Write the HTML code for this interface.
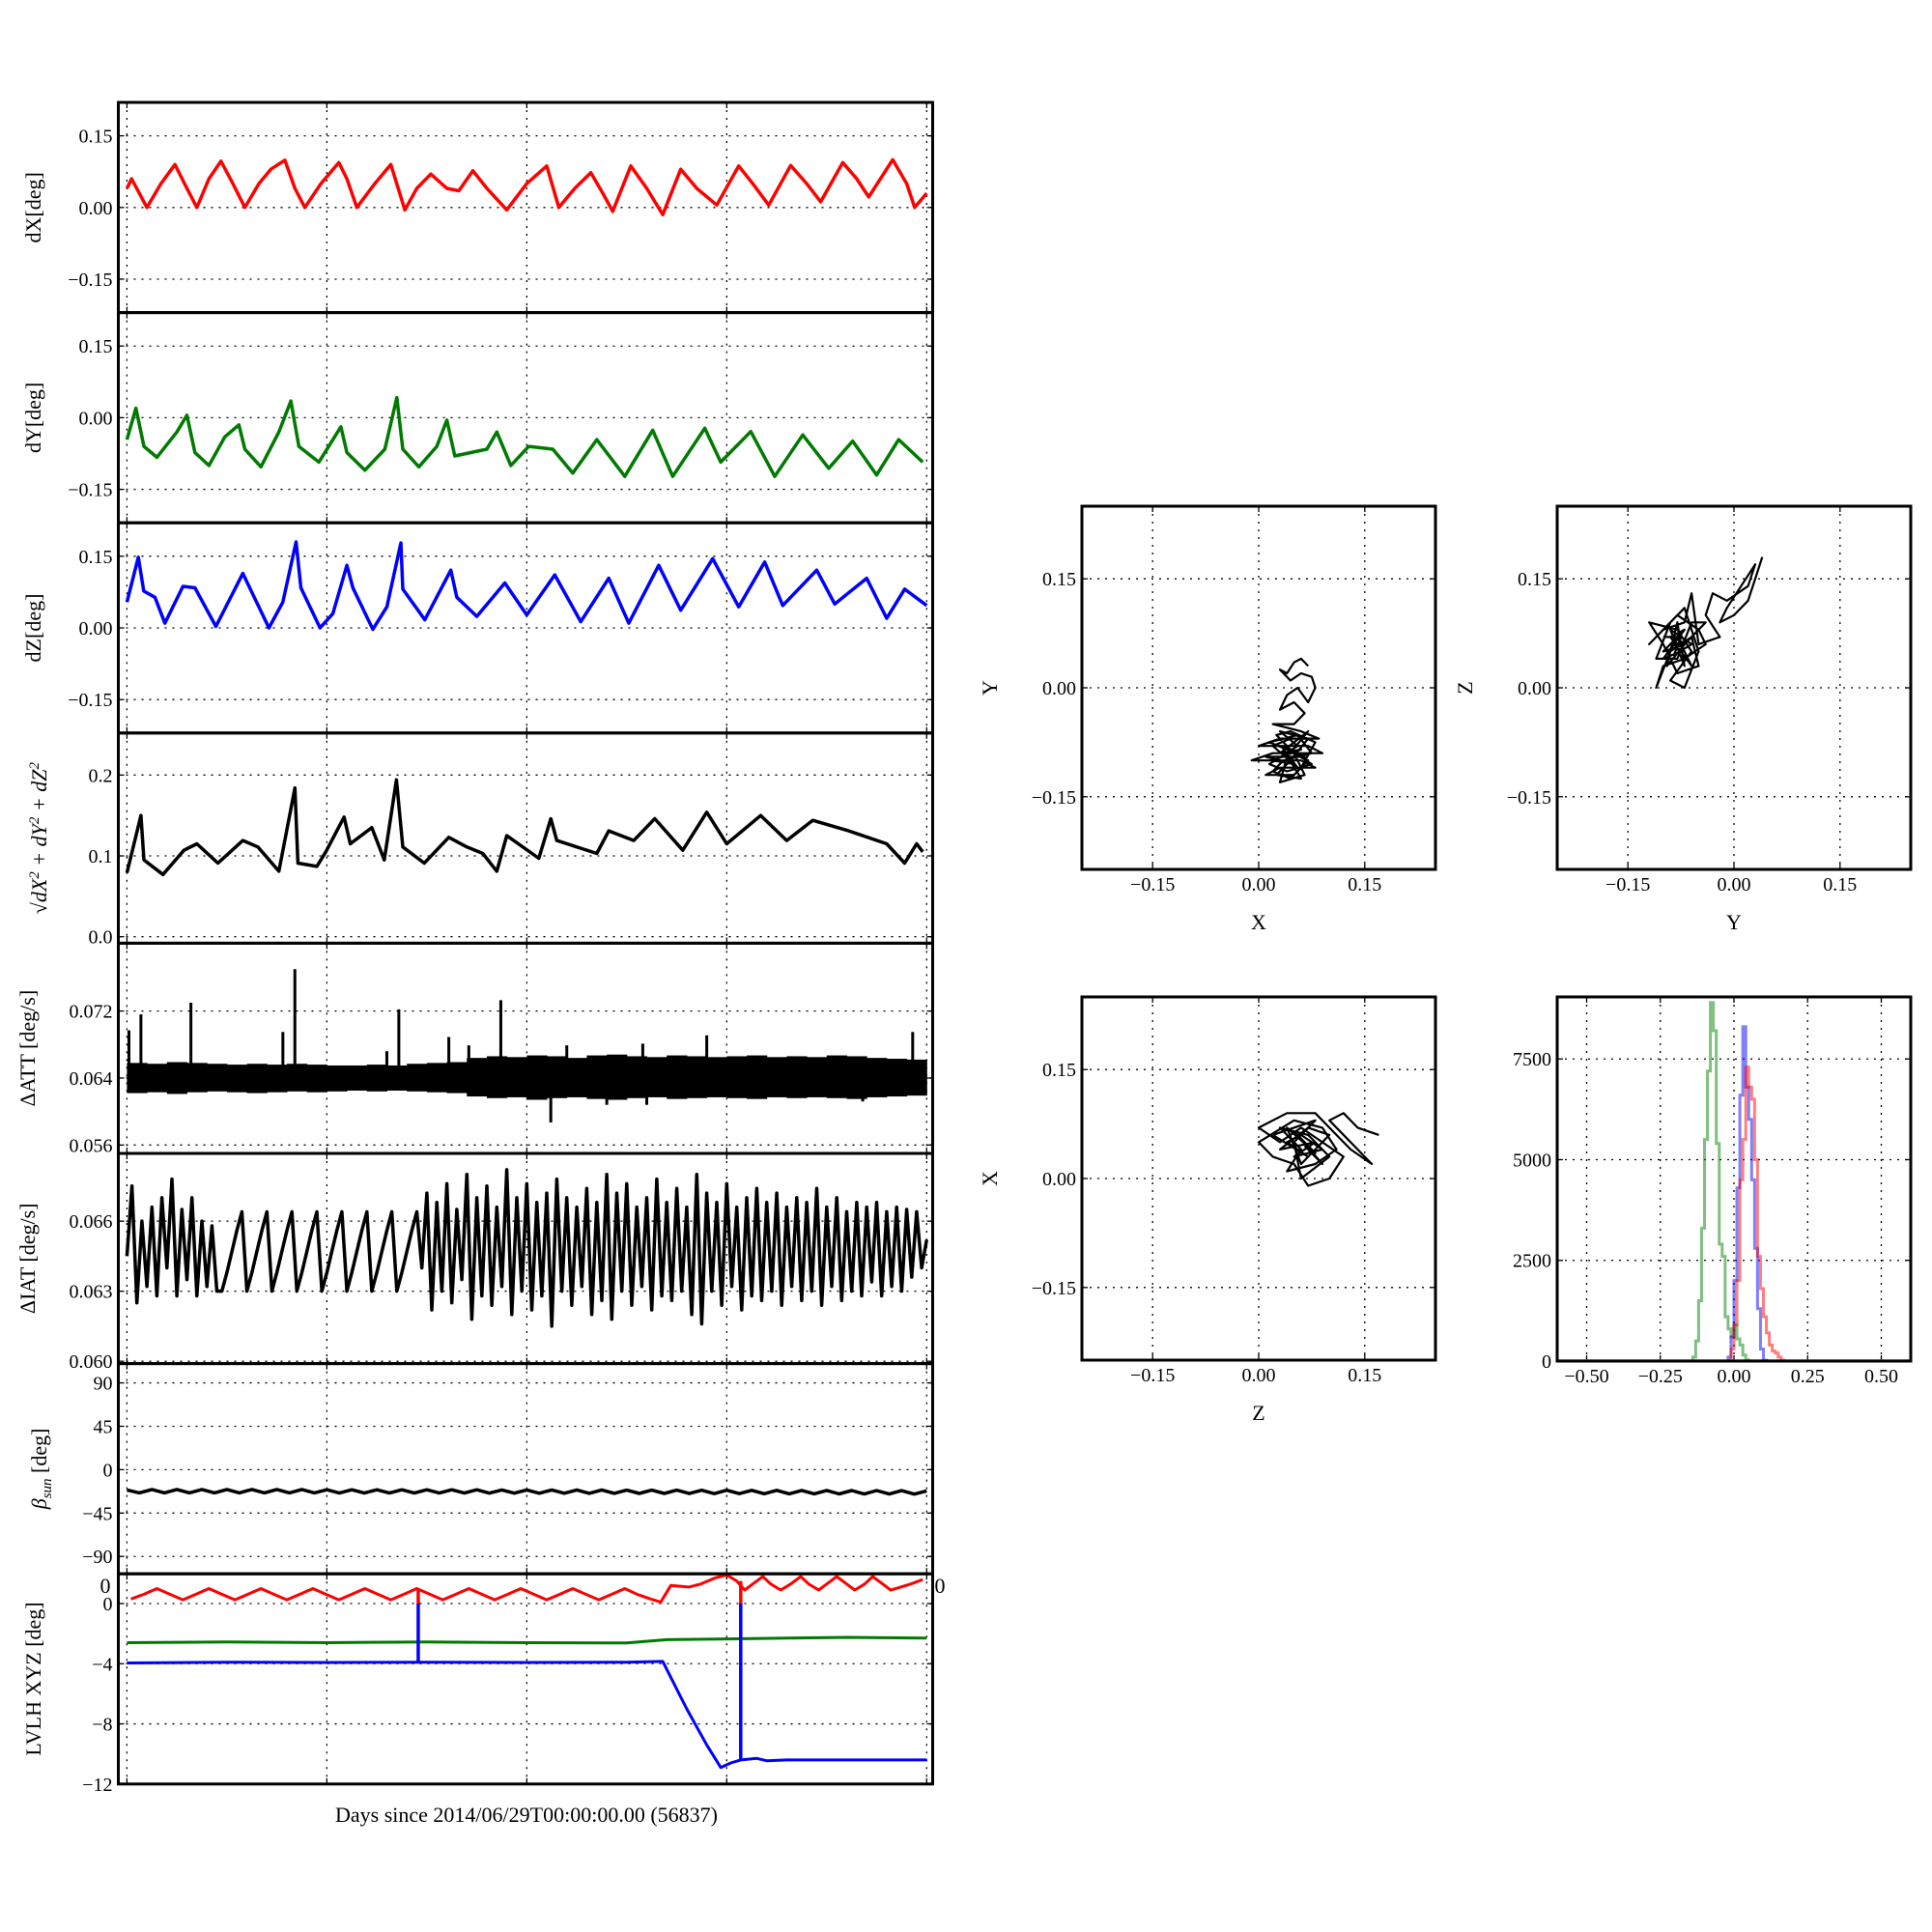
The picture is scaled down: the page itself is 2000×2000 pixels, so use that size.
<!DOCTYPE html>
<html><head><meta charset="utf-8"><style>
html,body{margin:0;padding:0;background:#fff;}
svg{display:block;font-family:"Liberation Serif","DejaVu Serif",serif;}
</style></head><body>
<svg id="fig" width="2000" height="2000" viewBox="0 0 2000 2000" xmlns="http://www.w3.org/2000/svg"></svg>
<script>
// ---------- DATA ----------
const dxT=[0,0.023,0.1,0.17,0.24,0.3,0.35,0.41,0.47,0.53,0.59,0.66,0.72,0.79,0.84,0.89,0.97,1.06,1.1,1.15,1.24,1.32,1.39,1.45,1.52,1.6,1.66,1.73,1.8,1.9,2.0,2.1,2.16,2.24,2.32,2.38,2.43,2.52,2.6,2.68,2.77,2.85,2.95,3.06,3.13,3.21,3.32,3.4,3.47,3.58,3.65,3.71,3.83,3.9,3.94,4.0];
const dxV=[0.04,0.06,0.0,0.05,0.09,0.04,0.0,0.06,0.097,0.05,0.0,0.05,0.08,0.099,0.04,0.0,0.05,0.094,0.06,0.0,0.05,0.09,-0.005,0.04,0.07,0.04,0.035,0.077,0.04,-0.005,0.05,0.087,0.0,0.04,0.073,0.03,-0.008,0.087,0.04,-0.015,0.08,0.04,0.005,0.087,0.05,0.005,0.088,0.05,0.012,0.094,0.06,0.022,0.1,0.05,0.0,0.03];
const dyT=[0,0.045,0.085,0.15,0.25,0.3,0.34,0.41,0.49,0.56,0.59,0.67,0.76,0.82,0.86,0.96,1.07,1.1,1.19,1.29,1.35,1.38,1.46,1.55,1.6,1.64,1.8,1.85,1.92,2.01,2.13,2.23,2.35,2.49,2.63,2.73,2.89,2.97,3.12,3.24,3.38,3.51,3.63,3.75,3.86,3.98];
const dyV=[-0.046,0.02,-0.06,-0.083,-0.03,0.005,-0.073,-0.1,-0.04,-0.015,-0.066,-0.103,-0.03,0.035,-0.06,-0.093,-0.019,-0.073,-0.11,-0.066,0.042,-0.066,-0.103,-0.06,-0.005,-0.08,-0.066,-0.03,-0.1,-0.06,-0.066,-0.116,-0.046,-0.123,-0.026,-0.123,-0.022,-0.093,-0.029,-0.123,-0.036,-0.106,-0.049,-0.12,-0.046,-0.093];
const dzT=[0,0.057,0.084,0.14,0.19,0.28,0.34,0.445,0.58,0.71,0.78,0.846,0.87,0.966,1.03,1.1,1.13,1.23,1.3,1.37,1.38,1.49,1.62,1.65,1.75,1.89,2.0,2.14,2.27,2.41,2.51,2.66,2.77,2.93,3.06,3.19,3.28,3.45,3.54,3.7,3.8,3.89,4.0];
const dzV=[0.054,0.148,0.077,0.064,0.01,0.087,0.084,0.003,0.114,0.0,0.054,0.18,0.084,0.0,0.03,0.131,0.084,-0.003,0.044,0.178,0.081,0.017,0.121,0.064,0.024,0.094,0.027,0.111,0.013,0.104,0.01,0.131,0.037,0.145,0.044,0.138,0.047,0.121,0.05,0.104,0.02,0.081,0.047];
const nT=[0,0.07,0.085,0.18,0.285,0.35,0.455,0.58,0.655,0.76,0.84,0.855,0.95,0.995,1.086,1.117,1.225,1.287,1.348,1.38,1.487,1.61,1.7,1.78,1.85,1.9,2.06,2.12,2.15,2.35,2.41,2.535,2.64,2.78,2.9,3.0,3.17,3.3,3.43,3.61,3.8,3.89,3.95,3.98];
const nV=[0.079,0.15,0.095,0.077,0.107,0.115,0.091,0.119,0.111,0.081,0.184,0.091,0.087,0.105,0.148,0.115,0.135,0.095,0.194,0.111,0.091,0.123,0.111,0.103,0.081,0.125,0.097,0.146,0.119,0.103,0.131,0.119,0.146,0.107,0.154,0.115,0.15,0.119,0.144,0.131,0.115,0.091,0.115,0.105];
const attLo=[0.0622,0.0623,0.0621,0.0623,0.0624,0.0623,0.0622,0.0623,0.0624,0.0623,0.0624,0.0625,0.0624,0.0625,0.0624,0.0623,0.0622,0.0618,0.0616,0.0617,0.0614,0.0616,0.0617,0.0615,0.0614,0.0616,0.0617,0.0615,0.0616,0.0617,0.0616,0.0615,0.0617,0.0616,0.0617,0.0616,0.0615,0.0617,0.0618,0.0619];
const attHi=[0.0658,0.0657,0.0659,0.0658,0.0657,0.0656,0.0657,0.0656,0.0657,0.0656,0.0655,0.0655,0.0656,0.0655,0.0657,0.0658,0.0659,0.0664,0.0666,0.0665,0.0667,0.0666,0.0664,0.0667,0.0668,0.0666,0.0665,0.0667,0.0666,0.0665,0.0666,0.0667,0.0665,0.0666,0.0665,0.0667,0.0666,0.0664,0.0663,0.0662];
const spikeT=[0.01,0.07,0.32,0.78,0.84,1.3,1.36,1.61,1.71,1.87,2.12,2.2,2.4,2.58,2.6,2.9,3.68,3.93];
const spikeV=[0.0697,0.0716,0.073,0.0695,0.077,0.0672,0.0722,0.0689,0.0679,0.0733,0.0587,0.0679,0.0608,0.0681,0.0608,0.0691,0.0612,0.0695];
const iatV=[0.0645,0.0675,0.0625,0.0660,0.0632,0.0666,0.0628,0.0670,0.0640,0.0678,0.0628,0.0665,0.0635,0.0670,0.0628,0.0660,0.0632,0.0658,0.0630,
0.0630,0.0638,0.0647,0.0656,0.0664,0.0630,0.0638,0.0647,0.0656,0.0664,0.0630,0.0638,0.0647,0.0656,0.0664,0.0630,0.0638,0.0647,0.0656,0.0664,
0.0630,0.0638,0.0647,0.0656,0.0664,0.0630,0.0638,0.0647,0.0656,0.0664,0.0630,0.0638,0.0647,0.0656,0.0664,0.0630,0.0638,0.0647,0.0656,0.0664,
0.0640,0.0672,0.0622,0.0668,0.0630,0.0676,0.0625,0.0665,0.0635,0.0680,
0.0618,0.0670,0.0628,0.0675,0.0624,0.0666,0.0632,0.0682,0.0620,0.0670,
0.0630,0.0676,0.0622,0.0668,0.0628,0.0672,0.0615,0.0678,0.0630,0.0670,
0.0624,0.0666,0.0632,0.0674,0.0620,0.0668,0.0626,0.0680,0.0618,0.0672,
0.0630,0.0676,0.0624,0.0666,0.0632,0.0670,0.0622,0.0678,0.0628,0.0668,
0.0626,0.0674,0.0630,0.0666,0.0620,0.0680,0.0616,0.0672,0.0630,0.0668,
0.0624,0.0676,0.0632,0.0666,0.0622,0.0670,0.0628,0.0674,0.0626,0.0668,
0.0630,0.0672,0.0624,0.0666,0.0632,0.0670,0.0626,0.0668,0.0630,0.0674,
0.0624,0.0666,0.0632,0.0670,0.0626,0.0664,0.0630,0.0668,0.0628,0.0666,
0.0634,0.0668,0.0628,0.0664,0.0632,0.0666,0.0630,0.0665,0.0636,0.0664,
0.0640,0.0652];
const betaV=[-21,-24,-20.5,-24,-20.5,-24,-20.5,-24,-20.5,-24,-20.5,-24,-20.5,-24,-20.5,-24,-20.8,-24.2,-20.8,-24.2,-20.8,-24.2,-20.8,-24.2,-20.8,-24.2,-20.8,-24.2,-20.8,-24.3,-21,-24.3,-21,-24.4,-21,-24.4,-21,-24.5,-21,-24.5,-21.2,-24.6,-21.2,-24.6,-21.2,-24.7,-21.3,-24.8,-21.3,-24.8,-21.4,-24.9,-21.4,-25,-21.5,-25,-21.5,-25.1,-21.6,-25.2,-21.6,-25.2,-21.7,-25.3,-22];
// LVLH: early red sampled every 0.065 day starting at 0.02
const redEarlyV=[0.3,0.62,1.0,0.62,0.25,0.62,1.0,0.62,0.25,0.62,1.0,0.62,0.25,0.62,1.0,0.62,0.25,0.62,1.0,0.62,0.25,0.62,1.0,0.62,0.25,0.62,1.0,0.62,0.25,0.62,1.0,0.62,0.25,0.62,1.0,0.62,0.25,0.62,1.0,0.6,0.3];
const redLateT=[2.62,2.67,2.72,2.81,2.87,2.94,3.0,3.05,3.09,3.13,3.18,3.22,3.27,3.32,3.37,3.41,3.46,3.5,3.55,3.6,3.64,3.69,3.73,3.78,3.82,3.87,3.92,3.98];
const redLateV=[0.3,0.1,1.2,1.1,1.3,1.7,1.9,1.5,0.9,1.3,1.8,1.3,0.9,1.3,1.8,1.3,0.9,1.3,1.8,1.3,0.9,1.3,1.8,1.3,0.9,1.1,1.3,1.6];
const grnT=[0,0.5,1.0,1.5,2.0,2.5,2.7,3.0,3.3,3.6,4.0];
const grnV=[-2.6,-2.55,-2.6,-2.55,-2.6,-2.62,-2.4,-2.35,-2.3,-2.25,-2.3];
const bluT=[0,0.5,1.0,1.5,2.0,2.5,2.68,2.8,2.9,2.97,3.02,3.07,3.15,3.2,3.3,3.6,4.0];
const bluV=[-3.95,-3.9,-3.92,-3.9,-3.92,-3.9,-3.85,-7.0,-9.4,-10.9,-10.6,-10.4,-10.3,-10.45,-10.4,-10.4,-10.4];
const jumpT=[1.457,3.07];
const jumpRedTop=[1.0,1.5];
const jumpBlueBot=[-3.9,-10.4];
// scatter clouds
const xyPairs=[[0.07,0.03],[0.06,0.04],[0.05,0.035],[0.04,0.02],[0.03,0.025],[0.045,0.01],[0.06,0.02],[0.075,0.015],[0.08,0.0],[0.07,-0.02],[0.055,0.0],[0.04,-0.01],[0.03,-0.03],[0.05,-0.02],[0.065,-0.035],[0.05,-0.05],[0.02,-0.05],[0.06,-0.06],[0.085,-0.07],[0.03,-0.07],[0.0,-0.08],[0.07,-0.08],[0.09,-0.09],[0.02,-0.09],[-0.01,-0.1],[0.06,-0.1],[0.08,-0.11],[0.03,-0.11],[0.01,-0.12],[0.05,-0.12],[0.07,-0.1],[0.04,-0.085],[0.015,-0.075],[0.055,-0.065],[0.075,-0.09],[0.035,-0.1],[0.02,-0.115],[0.045,-0.125],[0.06,-0.11],[0.08,-0.075],[0.045,-0.06],[0.025,-0.065],[0.05,-0.09],[0.065,-0.12],[0.03,-0.13],[0.04,-0.095],[0.07,-0.06],[0.05,-0.075],[0.03,-0.09],[0.06,-0.085],[0.02,-0.1],[0.05,-0.105],[0.01,-0.095],[0.065,-0.095],[0.035,-0.08],[0.075,-0.105],[0.04,-0.115],[0.015,-0.105],[0.055,-0.08],[0.03,-0.06],[0.07,-0.07],[0.045,-0.1],[0.025,-0.12],[0.06,-0.125],[0.035,-0.085],[0.055,-0.11],[0.02,-0.08],[0.045,-0.07]];
const yzPairs=[[0.04,0.18],[0.03,0.15],[0.02,0.12],[0.0,0.1],[-0.02,0.09],[-0.01,0.11],[0.03,0.17],[0.02,0.14],[-0.01,0.12],[-0.03,0.13],[-0.04,0.1],[-0.02,0.07],[-0.05,0.06],[-0.06,0.13],[-0.07,0.09],[-0.1,0.08],[-0.12,0.06],[-0.08,0.1],[-0.05,0.08],[-0.04,0.06],[-0.07,0.04],[-0.1,0.03],[-0.11,0.0],[-0.09,0.05],[-0.06,0.07],[-0.05,0.03],[-0.08,0.02],[-0.1,0.06],[-0.12,0.09],[-0.08,0.08],[-0.06,0.05],[-0.09,0.01],[-0.07,0.0],[-0.05,0.05],[-0.07,0.11],[-0.09,0.09],[-0.11,0.04],[-0.08,0.04],[-0.06,0.09],[-0.04,0.09],[-0.07,0.06],[-0.1,0.05],[-0.08,0.07],[-0.06,0.03],[-0.09,0.07],[-0.07,0.08],[-0.1,0.04],[-0.075,0.05],[-0.085,0.06],[-0.065,0.065],[-0.095,0.03],[-0.08,0.09],[-0.07,0.03],[-0.09,0.08],[-0.06,0.06],[-0.085,0.045],[-0.075,0.07],[-0.1,0.07]];
const zxPairs=[[0.17,0.06],[0.14,0.07],[0.12,0.09],[0.1,0.08],[0.16,0.02],[0.13,0.04],[0.11,0.06],[0.08,0.09],[0.04,0.09],[0.0,0.07],[0.03,0.05],[0.06,0.07],[0.09,0.05],[0.12,0.03],[0.1,0.0],[0.07,-0.01],[0.05,0.02],[0.02,0.03],[0.0,0.05],[0.05,0.08],[0.09,0.07],[0.11,0.04],[0.08,0.02],[0.04,0.01],[0.06,0.04],[0.03,0.07],[0.07,0.06],[0.1,0.03],[0.06,0.0],[0.05,0.05],[0.08,0.08],[0.02,0.06],[0.07,0.03],[0.04,0.05],[0.06,0.06],[0.09,0.04],[0.05,0.03],[0.08,0.05],[0.03,0.04],[0.07,0.07],[0.1,0.06],[0.06,0.02],[0.04,0.07],[0.08,0.035],[0.05,0.065],[0.09,0.02],[0.065,0.045]];
const hStart=-0.15;
const hGreen=[0,100,500,1500,3300,5500,7200,8900,8200,5400,2900,2600,1100,800,600,900,550,400,150,30];
const hBlue=[0,0,0,0,0,0,0,0,0,0,0,0,0,100,600,2000,4300,6600,8300,6800,6000,4500,2800,1300,300,20];
const hRed=[0,0,0,0,0,0,0,0,0,0,0,0,0,0,300,900,2000,4500,5500,7300,6800,6500,5000,2600,1800,1100,700,400,250,200,100,20];

// ---------- DRAW ----------
const NS="http://www.w3.org/2000/svg";
const svg=document.getElementById('fig');
function el(tag,attrs,parent){const e=document.createElementNS(NS,tag);for(const k in attrs)e.setAttribute(k,attrs[k]);(parent||svg).appendChild(e);return e;}
function txt(s,x,y,size,anchor,parent,extra){const t=el('text',Object.assign({x:x,y:y,'font-size':size,'text-anchor':anchor||'middle',fill:'#000'},extra||{}),parent);t.textContent=s;return t;}
function axes(name,x0,y0,w,h,xd,yd){
  const g=el('g',{});
  
  
  const sx=v=>x0+(v-xd[0])/(xd[1]-xd[0])*w;
  const sy=v=>y0+h-(v-yd[0])/(yd[1]-yd[0])*h;
  return {g,sx,sy,x0,y0,w,h};
}
function grid(a,xt,yt){
  xt.forEach(v=>{const x=a.sx(v);
    const l=el('line',{x1:x,x2:x,y1:a.y0,y2:a.y0+a.h,stroke:'#000','stroke-width':1.3,'stroke-dasharray':'2,6'},a.g);
    
    el('line',{x1:x,x2:x,y1:a.y0,y2:a.y0+6,stroke:'#000','stroke-width':1.3},a.g);
    el('line',{x1:x,x2:x,y1:a.y0+a.h,y2:a.y0+a.h-6,stroke:'#000','stroke-width':1.3},a.g);});
  yt.forEach(v=>{const y=a.sy(v);
    const l=el('line',{x1:a.x0,x2:a.x0+a.w,y1:y,y2:y,stroke:'#000','stroke-width':1.3,'stroke-dasharray':'2,6'},a.g);
    
    el('line',{x1:a.x0,x2:a.x0+6,y1:y,y2:y,stroke:'#000','stroke-width':1.3},a.g);
    el('line',{x1:a.x0+a.w,x2:a.x0+a.w-6,y1:y,y2:y,stroke:'#000','stroke-width':1.3},a.g);});
}
function frame(a){const r=el('rect',{x:a.x0,y:a.y0,width:a.w,height:a.h,fill:'none',stroke:'#000','stroke-width':3},a.g);
  }
function ylabels(a,vals,labels,size){vals.forEach((v,i)=>{const t=txt(labels[i],a.x0-6,a.sy(v)+7,size||20,'end',a.g);
  });}
function xlabels(a,vals,labels,y){vals.forEach((v,i)=>{const t=txt(labels[i],a.sx(v),y,20,'middle',a.g);
  });}
function ytitle(a,s,x,extra){const cy=a.y0+a.h/2;const t=txt(s,x,cy,22,'middle',a.g,Object.assign({transform:`rotate(-90 ${x} ${cy})`},extra||{}));
  return t;}
function line(a,T,V,color,w,name,op){const pts=T.map((t,i)=>a.sx(t).toFixed(1)+','+a.sy(V[i]).toFixed(1)).join(' ');
  const p=el('polyline',{points:pts,fill:'none',stroke:color,'stroke-width':w,'stroke-linejoin':'round','stroke-opacity':op||1},a.g);
  return p;}

const LX=122.5,LW=843,PH=217.6,T0=106;
const xd=[-0.043,4.03];
const days=[0,1,2,3,4];
function leftPanel(i,name,yd){return axes(name,LX,T0+i*PH,LW,PH,xd,yd);}

let a=leftPanel(0,'dx-panel',[-0.22,0.22]);
grid(a,days,[-0.15,0,0.15]);line(a,dxT,dxV,'#ff0000',3.5,'dx-line');frame(a);
ylabels(a,[-0.15,0,0.15],['\u22120.15','0.00','0.15']);ytitle(a,'dX[deg]',42);
a=leftPanel(1,'dy-panel',[-0.22,0.22]);
grid(a,days,[-0.15,0,0.15]);line(a,dyT,dyV,'#007a00',3.5,'dy-line');frame(a);
ylabels(a,[-0.15,0,0.15],['\u22120.15','0.00','0.15']);ytitle(a,'dY[deg]',42);
a=leftPanel(2,'dz-panel',[-0.22,0.22]);
grid(a,days,[-0.15,0,0.15]);line(a,dzT,dzV,'#0000ff',3.5,'dz-line');frame(a);
ylabels(a,[-0.15,0,0.15],['\u22120.15','0.00','0.15']);ytitle(a,'dZ[deg]',42);
a=leftPanel(3,'norm-panel',[-0.008,0.252]);
grid(a,days,[0,0.1,0.2]);line(a,nT,nV,'#000',3.5,'norm-line');frame(a);
ylabels(a,[0,0.1,0.2],['0.0','0.1','0.2']);
{const t=ytitle(a,'',48,{'font-style':'italic'});t.innerHTML='\u221AdX<tspan dy="-8" font-size="15">2</tspan><tspan dy="8"> + dY</tspan><tspan dy="-8" font-size="15">2</tspan><tspan dy="8"> + dZ</tspan><tspan dy="-8" font-size="15">2</tspan>';}
a=leftPanel(4,'datt-panel',[0.0550,0.0801]);
grid(a,days,[0.056,0.064,0.072]);
attLo.forEach((lo,i)=>{const t0=i*0.1;const r=el('rect',{x:a.sx(t0),y:a.sy(attHi[i]),width:a.sx(t0+0.1)-a.sx(t0)+0.5,height:a.sy(lo)-a.sy(attHi[i]),fill:'#000'},a.g);
  });
spikeT.forEach((t,i)=>{const l=el('line',{x1:a.sx(t),x2:a.sx(t),y1:a.sy(0.064),y2:a.sy(spikeV[i]),stroke:'#000','stroke-width':3},a.g);
  });
frame(a);ylabels(a,[0.056,0.064,0.072],['0.056','0.064','0.072']);ytitle(a,'\u0394ATT [deg/s]',36);
a=leftPanel(5,'diat-panel',[0.0599,0.0689]);
grid(a,days,[0.060,0.063,0.066]);
line(a,iatV.map((v,i)=>i*0.025),iatV,'#000',3.5,'diat-line');frame(a);
ylabels(a,[0.060,0.063,0.066],['0.060','0.063','0.066']);ytitle(a,'\u0394IAT [deg/s]',36);
a=leftPanel(6,'beta-panel',[-108,110]);
grid(a,days,[-90,-45,0,45,90]);
line(a,betaV.map((v,i)=>i*0.0625),betaV,'#000',3.5,'beta-line');frame(a);
ylabels(a,[-90,-45,0,45,90],['\u221290','\u221245','0','45','90']);
{const t=ytitle(a,'',48);t.innerHTML='<tspan font-style="italic">\u03B2</tspan><tspan font-style="italic" font-size="15" dy="5">sun</tspan><tspan dy="-5"> [deg]</tspan>';}
a=leftPanel(7,'lvlh-panel',[-12,1.98]);
grid(a,days,[-12,-8,-4,0]);
line(a,grnT,grnV,'#007a00',3,'lvlh-y-line');
line(a,redEarlyV.map((v,i)=>0.02+i*0.065),redEarlyV,'#ff0000',3,'lvlh-x-line-early');
line(a,redLateT,redLateV,'#ff0000',3,'lvlh-x-line-late');
line(a,bluT,bluV,'#0000ff',3,'lvlh-z-line');
jumpT.forEach((t,i)=>{
  const r=el('line',{x1:a.sx(t),x2:a.sx(t),y1:a.sy(jumpRedTop[i]),y2:a.sy(0),stroke:'#ff0000','stroke-width':3.5},a.g);
  
  const b=el('line',{x1:a.sx(t),x2:a.sx(t),y1:a.sy(0),y2:a.sy(jumpBlueBot[i]),stroke:'#0000ff','stroke-width':3.5},a.g);
  });
frame(a);ylabels(a,[-12,-8,-4,0],['\u221212','\u22128','\u22124','0']);
{const t=txt('0',a.x0-8,a.y0+20,22,'end',a.g);
 const t2=txt('0',a.x0+a.w+2,a.y0+20,22,'start',a.g);}
ytitle(a,'LVLH XYZ [deg]',42);
{const t=txt('Days since 2014/06/29T00:00:00.00 (56837)',545,1886,22,'middle');}

const sd=[-0.25,0.25];const st=[-0.15,0,0.15];const stl=['\u22120.15','0.00','0.15'];
function scatterPanel(name,x0,y0,pairs,xt,yt){
  const s=axes(name,x0,y0,366,376,sd,sd);
  grid(s,st,st);
  line(s,pairs.map(p=>p[0]),pairs.map(p=>p[1]),'#000',2.2,name+'-trace');
  frame(s);ylabels(s,st,stl);xlabels(s,st,stl,y0+376+22);
  const xt1=txt(xt,x0+183,y0+376+62,22,'middle',s.g);
  ytitle(s,yt,x0-88);
}
scatterPanel('y-vs-x-panel',1120,524,xyPairs,'X','Y');
scatterPanel('z-vs-y-panel',1612,524,yzPairs,'Y','Z');
scatterPanel('x-vs-z-panel',1120,1032,zxPairs,'Z','X');

const h=axes('histogram-panel',1612,1032,366,377,[-0.6,0.6],[0,9040]);
grid(h,[-0.5,-0.25,0,0.25,0.5],[0,2500,5000,7500]);
function step(counts,color,name){let d='';counts.forEach((c,i)=>{const xa=h.sx(hStart+i*0.01),xb=h.sx(hStart+(i+1)*0.01),y=h.sy(c);
  d+=(i===0?'M'+xa+','+h.sy(0)+' ':'')+'L'+xa+','+y+' L'+xb+','+y+' ';});
  d+='L'+h.sx(hStart+counts.length*0.01)+','+h.sy(0);
  const p=el('path',{d:d,fill:'none',stroke:color,'stroke-width':3,'stroke-opacity':0.5},h.g);
  }
el('line',{x1:h.sx(-0.6),x2:h.sx(0.6),y1:h.sy(0)-1,y2:h.sy(0)-1,stroke:'#c060c0','stroke-width':2,'stroke-opacity':0.6},h.g);
step(hGreen,'#008000','hist-dy');step(hBlue,'#0000ff','hist-dz');step(hRed,'#ff0000','hist-dx');
frame(h);ylabels(h,[0,2500,5000,7500],['0','2500','5000','7500']);
xlabels(h,[-0.5,-0.25,0,0.25,0.5],['\u22120.50','\u22120.25','0.00','0.25','0.50'],1032+377+22);
</script>
</body></html>
